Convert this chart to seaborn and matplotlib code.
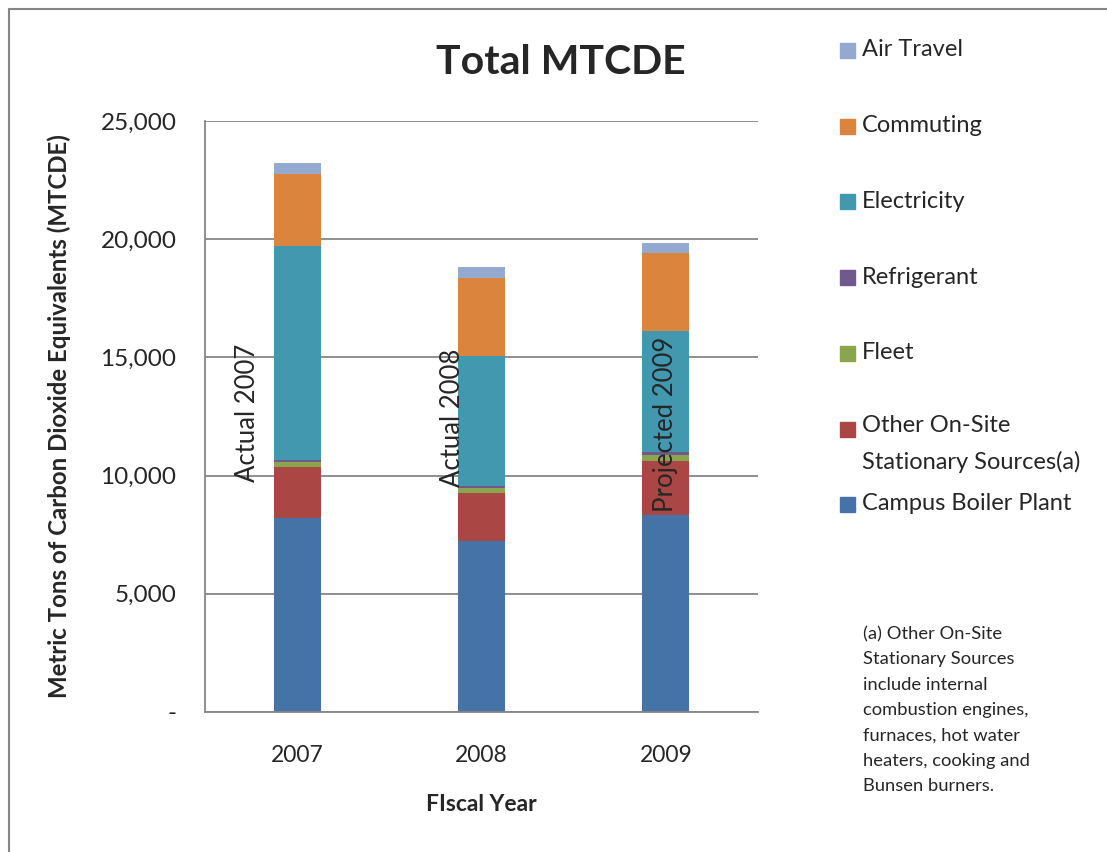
import numpy as np
import pandas as pd
import matplotlib
matplotlib.use("Agg")
import matplotlib.pyplot as plt
from matplotlib.patches import Rectangle
from matplotlib.lines import Line2D
import seaborn as sns

# dados (MTCDE)
anos = ["2007", "2008", "2009"]
rotulos = ["Actual 2007", "Actual 2008", "Projected 2009"]
fontes = ["Campus Boiler Plant", "Other On-Site\nStationary Sources(a)", "Fleet",
          "Refrigerant", "Electricity", "Commuting", "Air Travel"]
boiler = [8190, 7245, 8340]
other_onsite = [2170, 2010, 2290]
fleet = [210, 225, 240]
refrigerant = [100, 100, 110]
electricity = [9030, 5485, 5120]
commuting = [3070, 3310, 3300]
air_travel = [465, 450, 420]
cores = ["#4572A7", "#AA4643", "#89A54E", "#71588F", "#4198AF", "#DB843D", "#93A9CF"]

series = [boiler, other_onsite, fleet, refrigerant, electricity, commuting, air_travel]
acumulado = np.cumsum(np.array(series), axis=0)

sns.set_style("white")
plt.rcParams['font.family'] = ['Lato', 'DejaVu Sans']

fig = plt.figure(figsize=(11.07, 8.52), dpi=100)
ax = fig.add_axes([205 / 1107, 140 / 852, 553 / 1107, 591 / 852])

cinza = "#868686"
ax.set_axisbelow(True)
ax.yaxis.grid(True, color=cinza, linewidth=1.3)

# barras empilhadas: do topo para a base
for i in range(len(series) - 1, -1, -1):
    df = pd.DataFrame({"Ano": anos, "Total": acumulado[i]})
    sns.barplot(data=df, x="Ano", y="Total", color=cores[i], width=0.255,
                linewidth=0, saturation=1, ax=ax)

ax.set_ylim(0, 25000)
ax.set_yticks(range(0, 25001, 5000))
ax.set_yticklabels(["-"] + [f"{v:,}" for v in range(5000, 25001, 5000)])
ax.tick_params(axis="y", length=6.5, width=1.3, color=cinza, labelsize=17.5, pad=14)
ax.tick_params(axis="x", length=0, labelsize=16.5, pad=24)
for lado in ["top", "right"]:
    ax.spines[lado].set_visible(False)
for lado in ["left", "bottom"]:
    ax.spines[lado].set_color(cinza)
    ax.spines[lado].set_linewidth(1.3)

ax.set_xlabel("FIscal Year", fontsize=16.5, fontweight="bold", labelpad=20)
ax.set_ylabel("Metric Tons of Carbon Dioxide Equivalents (MTCDE)", fontsize=17.3,
              fontweight="bold")
ax.yaxis.set_label_coords(-0.242, 0.5)

# rótulos verticais nas barras
pos_rotulo = [(-0.27, 9740), (-0.16, 9530), (0.0, 8470)]
for i, (dx, yb) in enumerate(pos_rotulo):
    ax.text(i + dx, yb, rotulos[i], rotation=90, ha="center", va="bottom", fontsize=18.5)

fig.text(561 / 1107, 1 - 62 / 852, "Total MTCDE", ha="center", va="center",
         fontsize=29.5, fontweight="bold")

# legenda manual (ordem invertida, como no Excel)
y_leg = [504, 429, 353, 277, 201, 126, 50]
for i, nome in enumerate(fontes):
    y = 1 - y_leg[i] / 852
    fig.patches.append(Rectangle((840 / 1107, y - 7.5 / 852), 15 / 1107, 15 / 852,
                                 transform=fig.transFigure, color=cores[i]))
    if "\n" in nome:
        fig.text(862 / 1107, y + 14 / 852, nome, ha="left", va="top", fontsize=17,
                 linespacing=1.8)
    else:
        fig.text(862 / 1107, y, nome, ha="left", va="center", fontsize=17)

nota = ("(a) Other On-Site\nStationary Sources\ninclude internal\ncombustion engines,\n"
        "furnaces, hot water\nheaters, cooking and\nBunsen burners.")
fig.text(863 / 1107, 1 - 626 / 852, nota, ha="left", va="top", fontsize=13.2,
         linespacing=1.72)

# moldura do gráfico
fig.add_artist(Line2D([9 / 1107, 9 / 1107], [0, 1 - 9 / 852], color=cinza, linewidth=1.5))
fig.add_artist(Line2D([9 / 1107, 1], [1 - 9 / 852, 1 - 9 / 852], color=cinza, linewidth=1.5))

fig.savefig("out.png", dpi=100)
